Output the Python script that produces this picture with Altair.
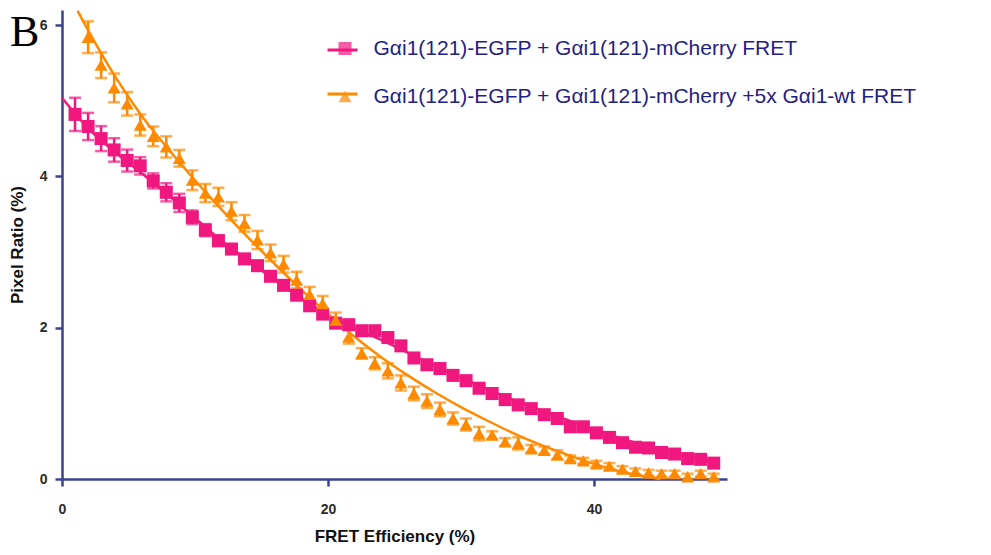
import altair as alt
import pandas as pd

S1 = "Gαi1(121)-EGFP + Gαi1(121)-mCherry FRET"
S2 = "Gαi1(121)-EGFP + Gαi1(121)-mCherry +5x Gαi1-wt FRET"
F1 = "fit 1"
F2 = "fit 2"
PINK = "#F0187F"
ORANGE = "#FF8A00"
AXIS = "#3A4290"

x_bins = [0.98, 1.96, 2.94, 3.92, 4.90, 5.88, 6.86, 7.84, 8.82, 9.80,
          10.78, 11.76, 12.74, 13.72, 14.70, 15.68, 16.66, 17.64, 18.62, 19.60,
          20.58, 21.56, 22.54, 23.52, 24.50, 25.48, 26.46, 27.44, 28.42, 29.40,
          30.38, 31.36, 32.34, 33.32, 34.30, 35.28, 36.26, 37.24, 38.22, 39.20,
          40.18, 41.16, 42.14, 43.12, 44.10, 45.08, 46.06, 47.04, 48.02, 49.00]

pink_y = [4.82, 4.66, 4.50, 4.35, 4.21, 4.14, 3.94, 3.79, 3.65, 3.46,
          3.29, 3.15, 3.04, 2.91, 2.82, 2.68, 2.56, 2.43, 2.29, 2.18,
          2.06, 2.04, 1.96, 1.96, 1.87, 1.76, 1.60, 1.51, 1.46, 1.37,
          1.30, 1.20, 1.13, 1.05, 0.98, 0.93, 0.85, 0.80, 0.69, 0.69,
          0.61, 0.55, 0.48, 0.42, 0.41, 0.35, 0.33, 0.27, 0.26, 0.21]
pink_err = [0.22, 0.18, 0.165, 0.155, 0.145, 0.115, 0.10, 0.12, 0.12, 0.09,
            0.08, 0.07, 0.06, 0.06, 0.06, 0.05, 0.05, 0.05, 0.05, 0.05,
            0.05, 0.05, 0.05, 0.05, 0.05, 0.04, 0.04, 0.04, 0.04, 0.04,
            0.04, 0.04, 0.04, 0.04, 0.04, 0.03, 0.03, 0.03, 0.03, 0.03,
            0.03, 0.03, 0.03, 0.03, 0.03, 0.03, 0.03, 0.03, 0.03, 0.03]

orange_x = x_bins[1:]
orange_y = [5.84, 5.47, 5.17, 4.96, 4.68, 4.53, 4.39, 4.24, 3.95,
            3.78, 3.73, 3.54, 3.38, 3.16, 2.99, 2.84, 2.63, 2.44, 2.32,
            2.10, 1.88, 1.66, 1.53, 1.43, 1.27, 1.13, 1.03, 0.92, 0.80,
            0.72, 0.60, 0.58, 0.49, 0.47, 0.40, 0.38, 0.32, 0.27, 0.24,
            0.20, 0.17, 0.13, 0.10, 0.08, 0.07, 0.07, 0.03, 0.07, 0.03]
orange_err = [0.21, 0.17, 0.19, 0.155, 0.14, 0.13, 0.14, 0.11, 0.13,
              0.12, 0.12, 0.12, 0.11, 0.12, 0.11, 0.11, 0.11, 0.10, 0.10,
              0.10, 0.09, 0.07, 0.08, 0.10, 0.10, 0.09, 0.09, 0.09, 0.08,
              0.08, 0.09, 0.05, 0.05, 0.08, 0.05, 0.05, 0.06, 0.04, 0.04,
              0.04, 0.04, 0.04, 0.04, 0.04, 0.04, 0.04, 0.04, 0.04, 0.04]

pink_fit_x = [0, 2, 4, 6, 8, 10, 12, 14, 16, 18, 20, 22, 24, 26, 28, 30,
              32, 34, 36, 38, 40, 42, 44, 46, 48, 49.1]
pink_fit_y = [5.04, 4.63, 4.32, 4.04, 3.75, 3.45, 3.15, 2.89, 2.63, 2.39, 2.17,
              1.99, 1.84, 1.67, 1.50, 1.34, 1.19, 1.04, 0.91, 0.78, 0.65,
              0.54, 0.43, 0.34, 0.26, 0.22]
orange_fit_x = [1.17, 2, 4, 6, 8, 10, 12, 14, 16, 18, 20, 22, 24, 26, 28, 30,
                32, 34, 36, 38, 40, 42, 44, 45]
orange_fit_y = [6.19, 5.92, 5.32, 4.80, 4.36, 3.95, 3.56, 3.19, 2.84, 2.50,
                2.18, 1.88, 1.61, 1.37, 1.15, 0.95, 0.77, 0.60, 0.45, 0.32,
                0.20, 0.10, 0.03, 0.0]

pts = pd.DataFrame({
    "x": x_bins + orange_x,
    "y": pink_y + orange_y,
    "err": pink_err + orange_err,
    "series": [S1] * len(x_bins) + [S2] * len(orange_x),
})
fits = pd.DataFrame({
    "x": pink_fit_x + orange_fit_x,
    "y": pink_fit_y + orange_fit_y,
    "fit": [F1] * len(pink_fit_x) + [F2] * len(orange_fit_x),
})

xs = alt.Scale(domain=[0, 50], nice=False, zero=False)
ys = alt.Scale(domain=[0, 6.2], nice=False)
cs = alt.Scale(domain=[S1, S2], range=[PINK, ORANGE])
fs = alt.Scale(domain=[F1, F2], range=[PINK, ORANGE])
shp = alt.Scale(domain=[S1, S2], range=["square", "triangle-up"])

x_axis = alt.Axis(values=[0, 20, 40], title="FRET Efficiency (%)",
                  labelPadding=16, titlePadding=12, labelFlush=False)
y_axis = alt.Axis(values=[0, 2, 4, 6], format="d", title="Pixel Ratio (%)",
                  labelPadding=8, titlePadding=13)

X = alt.X("x:Q", scale=xs, axis=x_axis)
Y = alt.Y("y:Q", scale=ys, axis=y_axis)

LEG_FONT = dict(labelFont="Liberation Sans", labelFontSize=21,
                labelColor="#1F2283", labelLimit=800)

# legend part 1: the coloured line behind each legend symbol (no labels)
line_legend = alt.Legend(
    title=None, orient="none", legendX=264, legendY=23.5, padding=0,
    direction="vertical", symbolType="stroke", symbolSize=900,
    symbolStrokeWidth=3, symbolOpacity=1, rowPadding=17, labelOffset=17,
    labelExpr="''", **LEG_FONT,
)
# legend part 2: marker symbols with the series labels
mark_legend = alt.Legend(
    title=None, orient="none", legendX=272.5, legendY=28, padding=0,
    direction="vertical", symbolSize=170, symbolStrokeWidth=0,
    symbolOpacity=1, rowPadding=26, labelOffset=18, **LEG_FONT,
)

color_expr = f"datum.series === '{S1}' ? '{PINK}' : '{ORANGE}'"

lines = alt.Chart(fits).mark_line(strokeWidth=2.5, interpolate="monotone").encode(
    x=X, y=Y,
    stroke=alt.Stroke("fit:N", scale=fs, legend=line_legend),
)

base = alt.Chart(pts).transform_calculate(
    lo="datum.y - datum.err", hi="datum.y + datum.err", col=color_expr
)
rules = base.mark_rule(strokeWidth=2.5).encode(
    x="x:Q", y="lo:Q", y2="hi:Q", color=alt.Color("col:N", scale=None),
)
caps_lo = base.mark_tick(thickness=2.5, size=12, orient="horizontal").encode(
    x="x:Q", y="lo:Q", color=alt.Color("col:N", scale=None)
)
caps_hi = base.mark_tick(thickness=2.5, size=12, orient="horizontal").encode(
    x="x:Q", y="hi:Q", color=alt.Color("col:N", scale=None)
)

points = alt.Chart(pts).mark_point(filled=True, size=170, opacity=1).encode(
    x="x:Q", y="y:Q",
    color=alt.Color("series:N", scale=cs, legend=mark_legend),
    shape=alt.Shape("series:N", scale=shp, legend=mark_legend),
)

chart = alt.layer(lines, rules, caps_lo, caps_hi, points).properties(
    width=665, height=469,
    padding={"left": 54, "top": 2, "right": 256, "bottom": 68},
    autosize=alt.AutoSizeParams(type="none"),
    title=alt.TitleParams("B", font="Liberation Serif", fontSize=44,
                          fontWeight="normal", anchor="start", frame="group",
                          orient="none", dx=-52, dy=36, baseline="alphabetic",
                          offset=0, color="black"),
).configure_axis(
    domainColor=AXIS, domainWidth=2.5, tickColor=AXIS, tickWidth=2.5,
    tickSize=7, grid=False,
    labelFont="Liberation Sans", labelFontWeight="bold", labelFontSize=14,
    labelColor="#2b2b2b",
    titleFont="Liberation Sans", titleFontWeight="bold", titleFontSize=17,
    titleColor="#111111",
).configure_view(stroke=None)

chart.save("out.html", embed_options={"renderer": "svg", "actions": False})
